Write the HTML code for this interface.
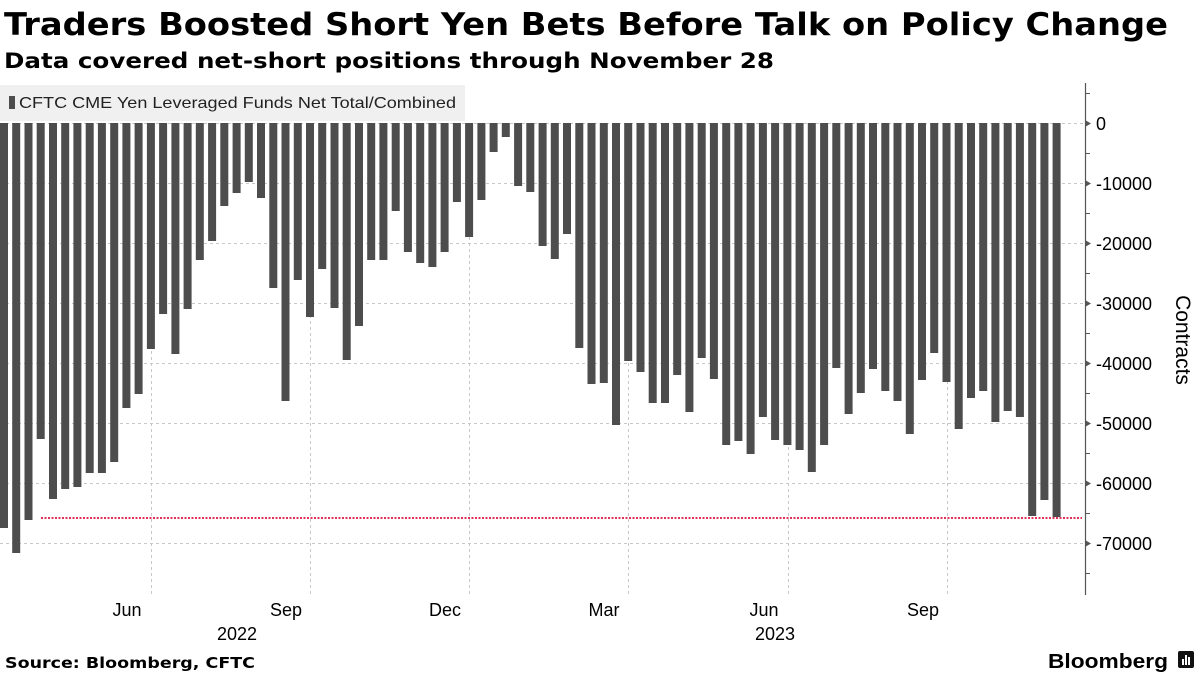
<!DOCTYPE html>
<html><head><meta charset="utf-8"><style>
body{margin:0;background:#fff;}
svg{display:block;font-family:"Liberation Sans","DejaVu Sans",sans-serif;}
</style></head><body>
<svg width="1200" height="675" viewBox="0 0 1200 675" xmlns="http://www.w3.org/2000/svg">
<text x="4" y="35" font-size="31" font-weight="bold" fill="#000" font-family="DejaVu Sans,sans-serif" textLength="1164" lengthAdjust="spacingAndGlyphs">Traders Boosted Short Yen Bets Before Talk on Policy Change</text>
<text x="4" y="68" font-size="21" font-weight="bold" fill="#000" font-family="DejaVu Sans,sans-serif" textLength="770" lengthAdjust="spacingAndGlyphs">Data covered net-short positions through November 28</text>
<rect x="0" y="85" width="465" height="36" fill="#f0f0f0"/>
<rect x="9" y="96" width="6" height="13" fill="#4d4d4d"/>
<text x="19" y="108" font-size="16" fill="#222" textLength="437" lengthAdjust="spacingAndGlyphs">CFTC CME Yen Leveraged Funds Net Total/Combined</text>
<g stroke="#c8c8c8" stroke-width="1" stroke-dasharray="3,3">
<line x1="0" x2="1085" y1="123.5" y2="123.5"/><line x1="0" x2="1085" y1="183.5" y2="183.5"/><line x1="0" x2="1085" y1="243.5" y2="243.5"/><line x1="0" x2="1085" y1="303.5" y2="303.5"/><line x1="0" x2="1085" y1="363.5" y2="363.5"/><line x1="0" x2="1085" y1="423.5" y2="423.5"/><line x1="0" x2="1085" y1="483.5" y2="483.5"/><line x1="0" x2="1085" y1="543.5" y2="543.5"/>
<line x1="151.5" x2="151.5" y1="123" y2="595"/><line x1="310.5" x2="310.5" y1="123" y2="595"/><line x1="469.5" x2="469.5" y1="123" y2="595"/><line x1="628.5" x2="628.5" y1="123" y2="595"/><line x1="788.5" x2="788.5" y1="123" y2="595"/><line x1="947.5" x2="947.5" y1="123" y2="595"/>
</g>
<g fill="#4d4d4d">
<rect x="0" y="123" width="8" height="405"/>
<rect x="12.2" y="123" width="8" height="430"/>
<rect x="24.5" y="123" width="8" height="397"/>
<rect x="36.7" y="123" width="8" height="316"/>
<rect x="49" y="123" width="8" height="376"/>
<rect x="61.2" y="123" width="8" height="366"/>
<rect x="73.4" y="123" width="8" height="364"/>
<rect x="85.7" y="123" width="8" height="350"/>
<rect x="97.9" y="123" width="8" height="350"/>
<rect x="110.2" y="123" width="8" height="339"/>
<rect x="122.4" y="123" width="8" height="285"/>
<rect x="134.6" y="123" width="8" height="271"/>
<rect x="146.9" y="123" width="8" height="226"/>
<rect x="159.1" y="123" width="8" height="191"/>
<rect x="171.4" y="123" width="8" height="231"/>
<rect x="183.6" y="123" width="8" height="186"/>
<rect x="195.8" y="123" width="8" height="137"/>
<rect x="208.1" y="123" width="8" height="118"/>
<rect x="220.3" y="123" width="8" height="83"/>
<rect x="232.6" y="123" width="8" height="70"/>
<rect x="244.8" y="123" width="8" height="59"/>
<rect x="257" y="123" width="8" height="75"/>
<rect x="269.3" y="123" width="8" height="165"/>
<rect x="281.5" y="123" width="8" height="278"/>
<rect x="293.8" y="123" width="8" height="157"/>
<rect x="306" y="123" width="8" height="194"/>
<rect x="318.2" y="123" width="8" height="146"/>
<rect x="330.5" y="123" width="8" height="185"/>
<rect x="342.7" y="123" width="8" height="237"/>
<rect x="355" y="123" width="8" height="203"/>
<rect x="367.2" y="123" width="8" height="137"/>
<rect x="379.4" y="123" width="8" height="137"/>
<rect x="391.7" y="123" width="8" height="88"/>
<rect x="403.9" y="123" width="8" height="129"/>
<rect x="416.2" y="123" width="8" height="140"/>
<rect x="428.4" y="123" width="8" height="144"/>
<rect x="440.6" y="123" width="8" height="129"/>
<rect x="452.9" y="123" width="8" height="79"/>
<rect x="465.1" y="123" width="8" height="114"/>
<rect x="477.4" y="123" width="8" height="77"/>
<rect x="489.6" y="123" width="8" height="29"/>
<rect x="501.8" y="123" width="8" height="14"/>
<rect x="514.1" y="123" width="8" height="63"/>
<rect x="526.3" y="123" width="8" height="69"/>
<rect x="538.6" y="123" width="8" height="123"/>
<rect x="550.8" y="123" width="8" height="136"/>
<rect x="563" y="123" width="8" height="111"/>
<rect x="575.3" y="123" width="8" height="225"/>
<rect x="587.5" y="123" width="8" height="261"/>
<rect x="599.8" y="123" width="8" height="260"/>
<rect x="612" y="123" width="8" height="302"/>
<rect x="624.2" y="123" width="8" height="238"/>
<rect x="636.5" y="123" width="8" height="249"/>
<rect x="648.7" y="123" width="8" height="280"/>
<rect x="661" y="123" width="8" height="280"/>
<rect x="673.2" y="123" width="8" height="252"/>
<rect x="685.4" y="123" width="8" height="289"/>
<rect x="697.7" y="123" width="8" height="235"/>
<rect x="709.9" y="123" width="8" height="256"/>
<rect x="722.2" y="123" width="8" height="322"/>
<rect x="734.4" y="123" width="8" height="318"/>
<rect x="746.6" y="123" width="8" height="331"/>
<rect x="758.9" y="123" width="8" height="294"/>
<rect x="771.1" y="123" width="8" height="317"/>
<rect x="783.4" y="123" width="8" height="322"/>
<rect x="795.6" y="123" width="8" height="327"/>
<rect x="807.8" y="123" width="8" height="349"/>
<rect x="820.1" y="123" width="8" height="322"/>
<rect x="832.3" y="123" width="8" height="245"/>
<rect x="844.6" y="123" width="8" height="291"/>
<rect x="856.8" y="123" width="8" height="270"/>
<rect x="869" y="123" width="8" height="246"/>
<rect x="881.3" y="123" width="8" height="268"/>
<rect x="893.5" y="123" width="8" height="278"/>
<rect x="905.8" y="123" width="8" height="311"/>
<rect x="918" y="123" width="8" height="257"/>
<rect x="930.2" y="123" width="8" height="230"/>
<rect x="942.5" y="123" width="8" height="259"/>
<rect x="954.7" y="123" width="8" height="306"/>
<rect x="967" y="123" width="8" height="275"/>
<rect x="979.2" y="123" width="8" height="268"/>
<rect x="991.4" y="123" width="8" height="299"/>
<rect x="1003.7" y="123" width="8" height="288"/>
<rect x="1015.9" y="123" width="8" height="294"/>
<rect x="1028.2" y="123" width="8" height="393"/>
<rect x="1040.4" y="123" width="8" height="377"/>
<rect x="1052.6" y="123" width="8" height="394"/>
</g>
<line x1="41" x2="1082" y1="518" y2="518" stroke="#e0305a" stroke-width="2" stroke-dasharray="2,1.5"/>
<line x1="1085.5" x2="1085.5" y1="83" y2="595" stroke="#555" stroke-width="1.2"/>
<g stroke="#555" stroke-width="1">
<line x1="1085" x2="1090" y1="93.5" y2="93.5"/><line x1="1085" x2="1090" y1="153.5" y2="153.5"/><line x1="1085" x2="1090" y1="213.5" y2="213.5"/><line x1="1085" x2="1090" y1="273.5" y2="273.5"/><line x1="1085" x2="1090" y1="333.5" y2="333.5"/><line x1="1085" x2="1090" y1="393.5" y2="393.5"/><line x1="1085" x2="1090" y1="453.5" y2="453.5"/><line x1="1085" x2="1090" y1="513.5" y2="513.5"/><line x1="1085" x2="1090" y1="573.5" y2="573.5"/>
</g>
<g fill="#555">
<path d="M1085,120 L1091,123.5 L1085,127Z"/><path d="M1085,180 L1091,183.5 L1085,187Z"/><path d="M1085,240 L1091,243.5 L1085,247Z"/><path d="M1085,300 L1091,303.5 L1085,307Z"/><path d="M1085,360 L1091,363.5 L1085,367Z"/><path d="M1085,420 L1091,423.5 L1085,427Z"/><path d="M1085,480 L1091,483.5 L1085,487Z"/><path d="M1085,540 L1091,543.5 L1085,547Z"/>
</g>
<g font-size="18" fill="#000">
<text x="1096" y="130">0</text><text x="1096" y="190">-10000</text><text x="1096" y="250">-20000</text><text x="1096" y="310">-30000</text><text x="1096" y="370">-40000</text><text x="1096" y="430">-50000</text><text x="1096" y="490">-60000</text><text x="1096" y="550">-70000</text>
</g>
<text transform="translate(1176,340) rotate(90)" font-size="21" text-anchor="middle" fill="#000">Contracts</text>
<g font-size="18" fill="#000" text-anchor="middle">
<text x="127" y="616">Jun</text><text x="286" y="616">Sep</text><text x="445" y="616">Dec</text><text x="604" y="616">Mar</text><text x="764" y="616">Jun</text><text x="923" y="616">Sep</text>
<text x="237" y="640">2022</text><text x="775" y="640">2023</text>
</g>
<text x="5" y="668" font-size="15" font-weight="bold" fill="#000" font-family="DejaVu Sans,sans-serif" textLength="250" lengthAdjust="spacingAndGlyphs">Source: Bloomberg, CFTC</text>
<text x="1048" y="668" font-size="20" font-weight="bold" fill="#000" textLength="120" lengthAdjust="spacingAndGlyphs">Bloomberg</text>
<rect x="1178" y="651" width="16" height="17" rx="2" fill="#111"/>
<rect x="1182" y="659" width="2" height="6" fill="#fff"/><rect x="1185" y="655" width="2" height="10" fill="#fff"/><rect x="1188" y="657" width="2" height="8" fill="#fff"/>
</svg>
</body></html>
